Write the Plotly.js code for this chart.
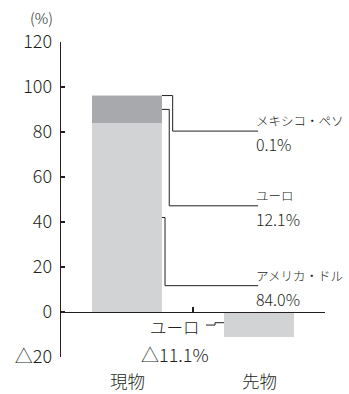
<!DOCTYPE html>
<html><head><meta charset="utf-8">
<script src="https://cdn.plot.ly/plotly-3.0.1.min.js"></script>
<style>html,body{margin:0;padding:0;background:#fff}</style>
</head><body><div id="chart" style="width:349px;height:394px"></div>
<script>
// ---- data ----
const categories = ['現物', '先物'];
const seriesNames = ['アメリカ・ドル', 'ユーロ', 'メキシコ・ペソ'];
const usdValues = [84.0, null];
const euroValues = [12.1, -11.1];
const mxnValues = [0.1, null];
const yTickVals = [-20, 0, 20, 40, 60, 80, 100, 120];
const yTickText = ['△20', '0', '20', '40', '60', '80', '100', '120'];

// ---- styles ----
const INK = '#231f20';
const LIGHT = '#d1d3d4';
const DARK = '#a7a9ac';
const FONT = '"Noto Sans CJK JP", "Noto Sans", sans-serif';
const BARW = 0.53;

const fmt = v => (v < 0 ? '△' + Math.abs(v).toFixed(1) : v.toFixed(1)) + '%';

const traces = [
  {type: 'bar', name: seriesNames[0], x: categories, y: usdValues, width: BARW,
   marker: {color: LIGHT, line: {width: 0}}, hoverinfo: 'skip'},
  {type: 'bar', name: seriesNames[1], x: categories, y: euroValues, width: BARW,
   marker: {color: [DARK, LIGHT], line: {width: 0}}, hoverinfo: 'skip'},
  {type: 'bar', name: seriesNames[2], x: categories, y: mxnValues, width: BARW,
   marker: {color: DARK, line: {width: 0}}, hoverinfo: 'skip'}
];

// leader lines for the spot bar (anchor computed from the data)
const spot = [usdValues[0], euroValues[0], mxnValues[0]];
const cum = [0, spot[0], spot[0] + spot[1], spot[0] + spot[1] + spot[2]];
const anchors = [
  (cum[0] + cum[1]) / 2,   // dollar: middle
  (cum[1] + cum[2]) / 2,   // euro: middle
  cum[3]                   // peso: top
];
const elbowX = [0.288, 0.32, 0.346];
const labelY = [11.7, 47.2, 80.4];
const lineEndX = 0.993;

const shapes = [];
const annotations = [];
const txt = (size) => ({family: FONT, size: size, color: INK, weight: 300});
for (let i = 0; i < 3; i++) {
  const x0 = BARW / 2;
  shapes.push({type: 'path', xref: 'x', yref: 'y',
    path: `M ${x0} ${anchors[i]} H ${elbowX[i]} V ${labelY[i]} H ${lineEndX}`,
    line: {color: INK, width: 1}});
  annotations.push({xref: 'x', yref: 'y', x: lineEndX, y: labelY[i], xanchor: 'left', yanchor: 'bottom',
    xshift: -3, borderpad: 0, text: seriesNames[i], showarrow: false, font: txt(12.5)});
  annotations.push({xref: 'x', yref: 'y', x: lineEndX, y: labelY[i], xanchor: 'left', yanchor: 'top',
    xshift: -3, borderpad: 0, text: fmt(spot[i]), showarrow: false, font: txt(16)});
}
// futures euro
shapes.push({type: 'path', xref: 'x', yref: 'y',
  path: `M 0.598 -5.8 H 0.667 V -4.76 H ${1 - BARW / 2}`,
  line: {color: INK, width: 1}});
annotations.push({xref: 'x', yref: 'y', x: 0.364, y: -12.3, xanchor: 'center', yanchor: 'bottom',
  borderpad: 0, text: seriesNames[1], showarrow: false, font: txt(16.5)});
annotations.push({xref: 'x', yref: 'y', x: 0.364, y: -12.3, xanchor: 'center', yanchor: 'top',
  borderpad: 0, text: fmt(euroValues[1]), showarrow: false, font: txt(18)});

// category labels
categories.forEach((c, i) => annotations.push({xref: 'x', yref: 'paper', x: i, y: -0.076,
  xanchor: 'center', yanchor: 'middle', text: c, showarrow: false, font: txt(17.5)}));
// unit label
annotations.push({xref: 'paper', yref: 'paper', x: -0.024, y: 1.079, xanchor: 'right', yanchor: 'middle',
  text: '(%)', showarrow: false, font: txt(15)});

const layout = {
  width: 349, height: 394,
  margin: {l: 61, r: 24, t: 42, b: 37},
  paper_bgcolor: '#fff', plot_bgcolor: '#fff',
  barmode: 'relative', showlegend: false,
  font: {family: FONT, color: INK},
  xaxis: {type: 'category', range: [-0.5, 1.5], anchor: 'free', position: 20 / 140,
    showline: true, linecolor: INK, linewidth: 1.3, showgrid: false, zeroline: false,
    ticks: 'inside', tickson: 'boundaries', ticklen: 5, tickcolor: INK, tickwidth: 1.3,
    showticklabels: false, fixedrange: true},
  yaxis: {range: [-20, 120], tickvals: yTickVals, ticktext: yTickText,
    showline: true, linecolor: INK, linewidth: 1.3, showgrid: false, zeroline: false,
    ticks: 'inside', ticklen: 4, tickcolor: INK, tickwidth: 1.3, ticklabelstandoff: 4,
    tickfont: txt(18), fixedrange: true},
  shapes: shapes,
  annotations: annotations
};
Plotly.newPlot('chart', traces, layout, {displayModeBar: false, staticPlot: true});
</script></body></html>
